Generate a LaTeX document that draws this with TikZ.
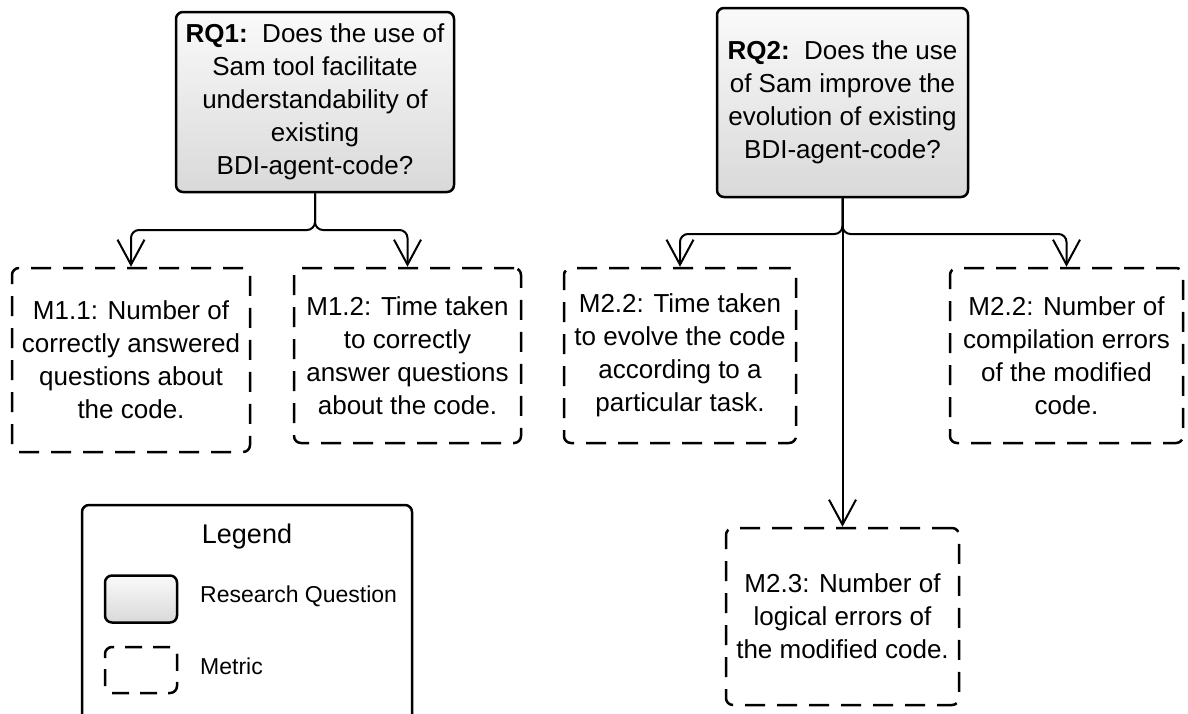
\documentclass[tikz,border=0pt]{standalone}
\usepackage{fontspec}
\setmainfont{Liberation Sans}
\usetikzlibrary{arrows.meta}
\begin{document}
\begin{tikzpicture}[x=1pt,y=-1pt,
  base/.style={draw, line width=2.5pt, rounded corners=7pt, align=center, inner sep=0pt, font=\fontsize{26}{33}\selectfont},
  rqbox/.style={base, top color=black!2, bottom color=black!15},
  metricbox/.style={base, dash pattern=on 20pt off 12pt},
  conn/.style={line width=2pt, rounded corners=8pt, -{Straight Barb[length=25pt,width=27pt]}},
  legtext/.style={font=\fontsize{23}{28}\selectfont, anchor=west, inner sep=0pt}
]
\useasboundingbox (0,0) rectangle (1188,713);
\clip (0,0) rectangle (1188,713);

% research questions
\node[rqbox, minimum width=278pt, minimum height=180pt] (rq1) at (315,102)
  {\textbf{RQ1:}\ \ Does the use of\\Sam tool facilitate\\understandability of\\existing\\BDI-agent-code?};
\node[rqbox, minimum width=251pt, minimum height=189pt] (rq2) at (842.5,102.5)
  {\textbf{RQ2:}\ \ Does the use\\of Sam improve the\\evolution of existing\\BDI-agent-code?};

% metrics
\node[metricbox, minimum width=238pt, minimum height=184pt] (m11) at (131,360)
  {M1.1: Number of\\correctly answered\\questions about\\the code.};
\node[metricbox, minimum width=227pt, minimum height=175pt] (m12) at (407.5,355.5)
  {M1.2: Time taken\\to correctly\\answer questions\\about the code.};
\node[metricbox, minimum width=232pt, minimum height=175pt] (m22a) at (680,355.5)
  {M2.2: Time taken\\to evolve the code\\according to a\\particular task.};
\node[metricbox, minimum width=233pt, minimum height=175pt] (m22b) at (1066.5,355.5)
  {M2.2: Number of\\compilation errors\\of the modified\\code.};
\node[metricbox, minimum width=233pt, minimum height=177pt] (m23) at (842.5,616.5)
  {M2.3: Number of\\logical errors of\\the modified code.};

% connectors
\coordinate (j1) at (315,230);
\coordinate (j2) at (842.5,234);
\draw[conn] (rq1.south) -- (j1) -| (m11.north);
\draw[conn] (rq1.south) -- (j1) -| (m12.north);
\draw[conn] (rq2.south) -- (j2) -| (m22a.north);
\draw[conn] (rq2.south) -- (j2) -| (m22b.north);
\draw[conn] (rq2.south) -- (m23.north);

% legend
\node[base, minimum width=330pt, minimum height=260pt] (legend) at (247,635) {};
\node[font=\fontsize{27}{30}\selectfont, inner sep=0pt] (legtitle) at (247,537) {Legend};
\node[base, top color=black!2, bottom color=black!15, minimum width=72pt, minimum height=47pt] (legrq) at (141,599) {};
\node[base, dash pattern=on 17pt off 11pt, minimum width=72pt, minimum height=46pt] (legm) at (141,670) {};
\node[legtext] (legrqt) at (200,596) {Research Question};
\node[legtext] (legmt) at (200,666) {Metric};
\end{tikzpicture}
\end{document}
